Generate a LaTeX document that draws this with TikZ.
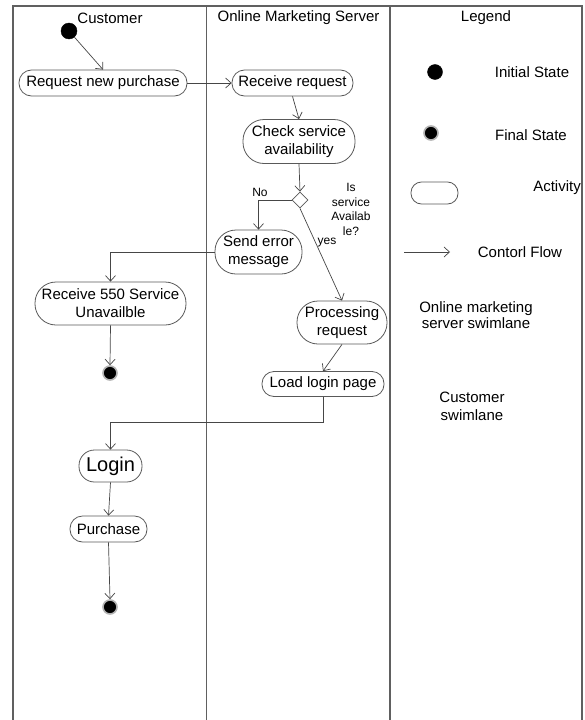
\documentclass[tikz,border=0pt]{standalone}
\usepackage{fontspec}
\setmainfont{Liberation Sans}
\usetikzlibrary{arrows.meta,shapes.geometric}
\newcommand\fsz[1]{\fontsize{#1}{1.2\dimexpr#1pt\relax}\selectfont}
\begin{document}
\begin{tikzpicture}[x=1pt,y=-1pt,
  lane/.style={draw=gray!75!black,line width=1.3pt},
  act/.style={draw=gray!70!black,line width=0.8pt,rectangle,inner sep=0pt,
    align=center,font=\fsz{15}},
  initst/.style={circle,fill=black,draw=black,inner sep=0pt,minimum size=#1},
  finalst/.style={circle,fill=black,draw=gray!60,line width=1.6pt,inner sep=0pt,minimum size=#1},
  decision/.style={diamond,draw=gray!70!black,line width=0.8pt,inner sep=0pt,
    minimum width=16pt,minimum height=16pt,fill=white},
  flow/.style={draw=gray!55!black,line width=0.7pt,
    -{Straight Barb[length=5.5pt,width=10pt,line width=0.7pt]}},
  txt/.style={inner sep=0pt,align=center,font=\fsz{15}},
  small/.style={inner sep=0pt,align=center,font=\fontsize{12}{14.5}\selectfont}]
\useasboundingbox (0,0) rectangle (584,720);

% swimlanes
\draw[lane] (13,720) -- (13,6) -- (582,6) -- (582,720);
\draw[lane] (206.5,6) -- (206.5,720);
\draw[lane] (390,6) -- (390,720);

\node[txt] (hCust) at (110,18) {Customer};
\node[txt] (hServ) at (298.5,18) {Online Marketing Server};
\node[txt] (hLeg) at (486,18) {Legend};

% customer / server activities
\node[initst=16pt] (init) at (69,31) {};
\node[act,minimum width=168pt,minimum height=26pt,rounded corners=12.5pt] (req) at (103,83) {Request new purchase};
\node[act,minimum width=121pt,minimum height=26pt,rounded corners=12.5pt] (recv) at (292.5,83) {Receive request};
\node[act,minimum width=112pt,minimum height=44pt,rounded corners=21pt,font=\fontsize{15}{18}\selectfont] (check) at (299,141.5) {Check service\\availability};
\node[decision] (dec) at (300,200) {};
\node[small] (no) at (260,192) {No};
\node[small] (isav) at (351,209.5) {Is\\service\\Availab\\le?};
\node[act,minimum width=87pt,minimum height=44pt,rounded corners=21pt,font=\fontsize{15}{18}\selectfont] (err) at (258.5,252) {Send error\\message};
\node[small] (yes) at (327,243) {yes};
\node[act,minimum width=151pt,minimum height=43pt,rounded corners=21pt,font=\fontsize{15}{18}\selectfont] (r550) at (110.5,303.5) {Receive 550 Service\\Unavailble};
\node[act,minimum width=90pt,minimum height=43pt,rounded corners=21pt,font=\fontsize{15}{18}\selectfont] (proc) at (342,322.5) {Processing\\request};
\node[finalst=14pt] (fin1) at (110,373) {};
\node[act,minimum width=122pt,minimum height=25pt,rounded corners=12pt] (load) at (323,384) {Load login page};
\node[act,minimum width=63pt,minimum height=32pt,rounded corners=15.5pt,font=\fsz{20}] (login) at (110.5,466) {Login};
\node[act,minimum width=77pt,minimum height=26pt,rounded corners=12.5pt] (purch) at (108.5,529) {Purchase};
\node[finalst=14pt] (fin2) at (110,607) {};

% control flows
\draw[flow] (init) -- (req.north);
\draw[flow] (req.east) -- (recv.west);
\draw[flow] (recv.south) -- (check.north);
\draw[flow] (check.south) -- (dec.north);
\draw[flow] (dec.west) -| (err.north);
\draw[flow] (dec.south) -- (proc.north);
\draw[flow] (err.west) -| (r550.north);
\draw[flow] (r550.south) -- (fin1.north);
\draw[flow] (proc.south) -- (load.north);
\draw[flow] (load.south) -- ++(0,25) -| (login.north);
\draw[flow] (login.south) -- (purch.north);
\draw[flow] (purch.south) -- (fin2.north);

% legend
\node[initst=15pt] (legInit) at (435,72) {};
\node[txt] (tInit) at (532,72) {Initial State};
\node[finalst=14pt] (legFin) at (431,133) {};
\node[txt] (tFin) at (531,135) {Final State};
\node[act,minimum width=47pt,minimum height=22pt,rounded corners=10.5pt] (legAct) at (434.5,193) {};
\node[txt] (tAct) at (557,188) {Activity};
\coordinate (cfA) at (404,252);
\coordinate (cfB) at (450,252);
\draw[flow] (cfA) -- (cfB);
\node[txt] (tFlow) at (520,252) {Contorl Flow};
\node[txt,font=\fontsize{15}{16.5}\selectfont] (tServ) at (476,315) {Online marketing\\server swimlane};
\node[txt,font=\fontsize{15}{18}\selectfont] (tCust) at (472,406) {Customer\\swimlane};
\end{tikzpicture}
\end{document}
